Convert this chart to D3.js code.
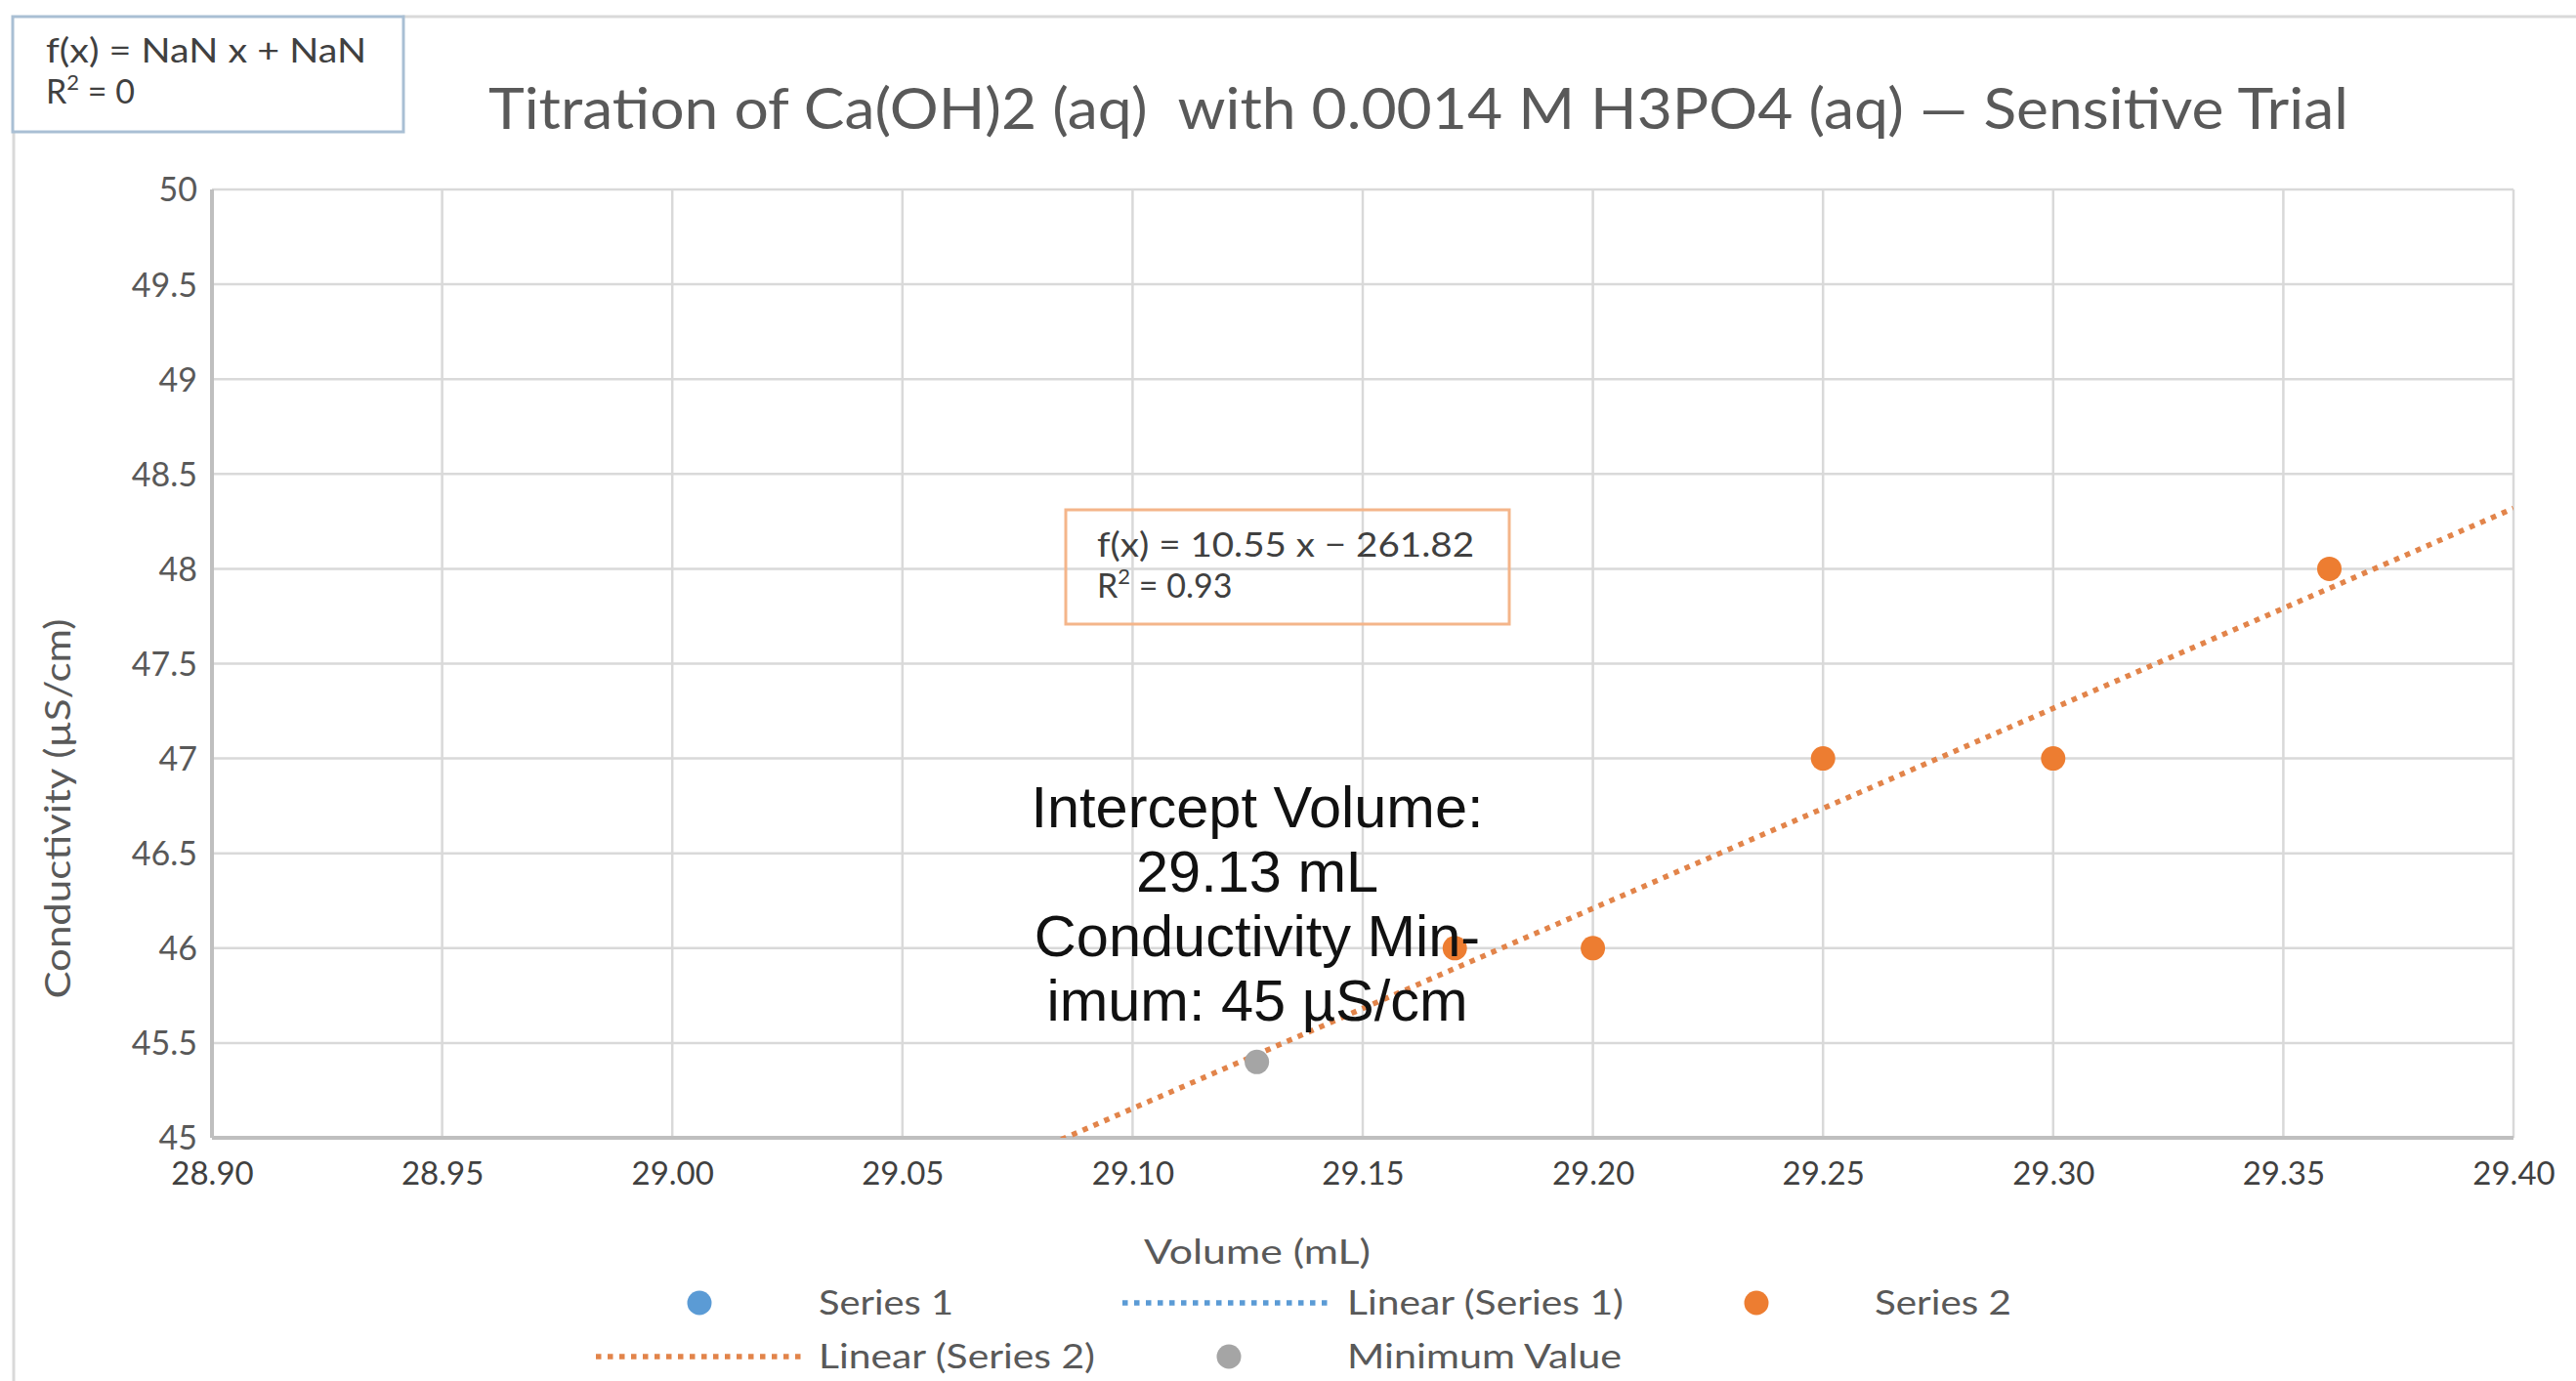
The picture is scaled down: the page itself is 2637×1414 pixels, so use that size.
<!DOCTYPE html>
<html>
<head>
<meta charset="utf-8">
<script src="https://cdn.jsdelivr.net/npm/d3@7"></script>
<style>
  html, body { margin: 0; padding: 0; background: #ffffff; }
  svg { display: block; }
  text { white-space: pre; }
</style>
</head>
<body>
<svg id="chart" width="2637" height="1414"></svg>
<script>
// ---------- data ----------
const titleText = "Titration of Ca(OH)2 (aq)  with 0.0014 M H3PO4 (aq) \u2014 Sensitive Trial";
const xTickValues = [28.90, 28.95, 29.00, 29.05, 29.10, 29.15, 29.20, 29.25, 29.30, 29.35, 29.40];
const xTickLabels = ["28.90","28.95","29.00","29.05","29.10","29.15","29.20","29.25","29.30","29.35","29.40"];
const yTickValues = [45, 45.5, 46, 46.5, 47, 47.5, 48, 48.5, 49, 49.5, 50];
const yTickLabels = ["45","45.5","46","46.5","47","47.5","48","48.5","49","49.5","50"];
const series1X = [];
const series1Y = [];
const series2X = [29.17, 29.20, 29.25, 29.30, 29.36];
const series2Y = [46, 46, 47, 47, 48];
const minimumX = [29.127];
const minimumY = [45.40];
const legendLabels = ["Series 1", "Linear (Series 1)", "Series 2", "Linear (Series 2)", "Minimum Value"];
const eqSeries1 = ["f(x) = NaN x + NaN", "R", "2", " = 0"];
const eqSeries2 = ["f(x) = 10.55 x \u2212 261.82", "R", "2", " = 0.93"];
const annotationLines = ["Intercept Volume:", "29.13 mL", "Conductivity Min-", "imum: 45 \u00b5S/cm"];
const xTitle = "Volume (mL)";
const yTitle = "Conductivity (\u00b5S/cm)";

// ---------- styles ----------
const C = {
  blue: "#5b9bd5", orange: "#ed7d31", gray: "#a5a5a5",
  grid: "#d9d9d9", axis: "#bfbfbf", text: "#595959", dark: "#404040",
  trendOrange: "#e2844a", trendBlue: "#5b9bd5"
};
const F = "Lato, 'Open Sans', sans-serif";
const DASH = "5.5,6.5";

const svg = d3.select("#chart");
const W = 2637, H = 1414;
const plot = { left: 217, right: 2573, top: 194, bottom: 1165 };

const x = d3.scaleLinear().domain([28.9, 29.4]).range([plot.left, plot.right]);
const y = d3.scaleLinear().domain([45, 50]).range([plot.bottom, plot.top]);

// outer chart border (partial)
svg.append("line").attr("x1", 412).attr("x2", W).attr("y1", 17).attr("y2", 17)
  .attr("stroke", "#d9d9d9").attr("stroke-width", 3);
svg.append("line").attr("x1", 14).attr("x2", 14).attr("y1", 135).attr("y2", H)
  .attr("stroke", "#d9d9d9").attr("stroke-width", 3);

// gridlines
const gx = svg.append("g");
gx.selectAll("line.v").data(xTickValues).join("line")
  .attr("x1", d => x(d)).attr("x2", d => x(d))
  .attr("y1", plot.top).attr("y2", plot.bottom)
  .attr("stroke", C.grid).attr("stroke-width", 2.5);
gx.selectAll("line.h").data(yTickValues).join("line")
  .attr("x1", plot.left).attr("x2", plot.right)
  .attr("y1", d => y(d)).attr("y2", d => y(d))
  .attr("stroke", C.grid).attr("stroke-width", 2.5);

// axis lines
svg.append("line").attr("x1", plot.left).attr("x2", plot.right)
  .attr("y1", plot.bottom).attr("y2", plot.bottom)
  .attr("stroke", C.axis).attr("stroke-width", 4);
svg.append("line").attr("x1", plot.left).attr("x2", plot.left)
  .attr("y1", plot.top).attr("y2", plot.bottom)
  .attr("stroke", C.axis).attr("stroke-width", 4);

// x axis tick labels via d3 axis
const xAxis = d3.axisBottom(x).tickValues(xTickValues)
  .tickFormat((d, i) => xTickLabels[i]).tickSize(0).tickPadding(0);
const xg = svg.append("g").attr("transform", `translate(0,${plot.bottom})`).call(xAxis);
xg.select(".domain").remove();
xg.selectAll("text").attr("font-family", F).attr("font-size", 33)
  .attr("fill", C.dark).attr("dy", null).attr("y", 48);

// y axis tick labels via d3 axis
const yAxis = d3.axisLeft(y).tickValues(yTickValues)
  .tickFormat((d, i) => yTickLabels[i]).tickSize(0).tickPadding(15);
const yg = svg.append("g").attr("transform", `translate(${plot.left},0)`).call(yAxis);
yg.select(".domain").remove();
yg.selectAll("text").attr("font-family", F).attr("font-size", 34)
  .attr("fill", C.text).attr("dy", "0.35em");

// axis titles
svg.append("text").attr("x", 1287).attr("y", 1294)
  .attr("text-anchor", "middle").attr("font-family", F).attr("font-size", 34)
  .attr("fill", C.text).attr("textLength", 232).attr("lengthAdjust", "spacingAndGlyphs")
  .text(xTitle);
svg.append("text").attr("transform", "translate(72,828) rotate(-90)")
  .attr("text-anchor", "middle").attr("font-family", F).attr("font-size", 36)
  .attr("fill", C.text).attr("textLength", 389).attr("lengthAdjust", "spacingAndGlyphs")
  .text(yTitle);

// title
svg.append("text").attr("x", 500).attr("y", 132)
  .attr("font-family", F).attr("font-size", 58).attr("fill", C.text)
  .attr("textLength", 1904).attr("lengthAdjust", "spacingAndGlyphs")
  .text(titleText);

// clip for plot
svg.append("clipPath").attr("id", "plotclip").append("rect")
  .attr("x", plot.left).attr("y", plot.top)
  .attr("width", plot.right - plot.left).attr("height", plot.bottom - plot.top);

// linear regression of series 2
function linreg(xs, ys) {
  const n = xs.length;
  const mx = d3.mean(xs), my = d3.mean(ys);
  let sxy = 0, sxx = 0;
  for (let i = 0; i < n; i++) { sxy += (xs[i] - mx) * (ys[i] - my); sxx += (xs[i] - mx) ** 2; }
  const m = sxy / sxx;
  return { m, b: my - m * mx };
}
const fit2 = linreg(series2X, series2Y);
const xd = x.domain();
const trendPts = [xd[0], xd[1]].map(v => [v, fit2.m * v + fit2.b]);
const line = d3.line().x(d => x(d[0])).y(d => y(d[1]));
svg.append("path").attr("clip-path", "url(#plotclip)")
  .attr("d", line(trendPts)).attr("fill", "none")
  .attr("stroke", C.trendOrange).attr("stroke-width", 5.5).attr("stroke-dasharray", DASH);

// series 1 points (none visible)
svg.append("g").selectAll("circle").data(series1X.map((v, i) => [v, series1Y[i]])).join("circle")
  .attr("cx", d => x(d[0])).attr("cy", d => y(d[1])).attr("r", 12.5).attr("fill", C.blue);

// series 2 points
svg.append("g").selectAll("circle").data(series2X.map((v, i) => [v, series2Y[i]])).join("circle")
  .attr("cx", d => x(d[0])).attr("cy", d => y(d[1])).attr("r", 12.5).attr("fill", C.orange);

// minimum point
svg.append("g").selectAll("circle").data(minimumX.map((v, i) => [v, minimumY[i]])).join("circle")
  .attr("cx", d => x(d[0])).attr("cy", d => y(d[1])).attr("r", 12.5).attr("fill", C.gray);

// equation boxes
function eqBox(bx, by, bw, bh, stroke, lines, tx, ty1, ty2, tl) {
  svg.append("rect").attr("x", bx).attr("y", by).attr("width", bw).attr("height", bh)
    .attr("fill", "none").attr("stroke", stroke).attr("stroke-width", 3);
  svg.append("text").attr("x", tx).attr("y", ty1).attr("font-family", F).attr("font-size", 34)
    .attr("fill", C.dark).attr("textLength", tl).attr("lengthAdjust", "spacingAndGlyphs").text(lines[0]);
  const t2 = svg.append("text").attr("x", tx).attr("y", ty2).attr("font-family", F)
    .attr("font-size", 34).attr("fill", C.dark);
  t2.append("tspan").text(lines[1]);
  t2.append("tspan").attr("font-size", 22).attr("dy", -14).text(lines[2]);
  t2.append("tspan").attr("dy", 14).text(lines[3]);
}
eqBox(13, 17, 400, 118, "#a9bfd4", eqSeries1, 47, 64, 106, 328);
eqBox(1091, 522, 454, 117, "#f4b58a", eqSeries2, 1123, 570, 612, 386);

// annotation text
const ann = svg.append("text").attr("text-anchor", "middle")
  .attr("font-family", "'Liberation Sans', Arial, sans-serif").attr("font-size", 59.5).attr("fill", "#111111");
annotationLines.forEach((t, i) => {
  ann.append("tspan").attr("x", 1287).attr("y", 847 + i * 66).text(t);
});

// legend
const lg = svg.append("g").attr("font-family", F).attr("font-size", 34).attr("fill", C.text);
const row1 = 1334, row2 = 1389;
lg.append("circle").attr("cx", 716).attr("cy", row1).attr("r", 12.5).attr("fill", C.blue);
lg.append("text").attr("x", 838).attr("y", row1 + 12).attr("textLength", 138).attr("lengthAdjust", "spacingAndGlyphs").text(legendLabels[0]);
lg.append("line").attr("x1", 1149).attr("x2", 1362).attr("y1", row1).attr("y2", row1)
  .attr("stroke", C.trendBlue).attr("stroke-width", 5.5).attr("stroke-dasharray", DASH);
lg.append("text").attr("x", 1379).attr("y", row1 + 12).attr("textLength", 283).attr("lengthAdjust", "spacingAndGlyphs").text(legendLabels[1]);
lg.append("circle").attr("cx", 1798).attr("cy", row1).attr("r", 12.5).attr("fill", C.orange);
lg.append("text").attr("x", 1919).attr("y", row1 + 12).attr("textLength", 140).attr("lengthAdjust", "spacingAndGlyphs").text(legendLabels[2]);
lg.append("line").attr("x1", 610).attr("x2", 824).attr("y1", row2).attr("y2", row2)
  .attr("stroke", C.trendOrange).attr("stroke-width", 5.5).attr("stroke-dasharray", DASH);
lg.append("text").attr("x", 838).attr("y", row2 + 12).attr("textLength", 283).attr("lengthAdjust", "spacingAndGlyphs").text(legendLabels[3]);
lg.append("circle").attr("cx", 1258).attr("cy", row2).attr("r", 12.5).attr("fill", C.gray);
lg.append("text").attr("x", 1379).attr("y", row2 + 12).attr("textLength", 281).attr("lengthAdjust", "spacingAndGlyphs").text(legendLabels[4]);
</script>
</body>
</html>
